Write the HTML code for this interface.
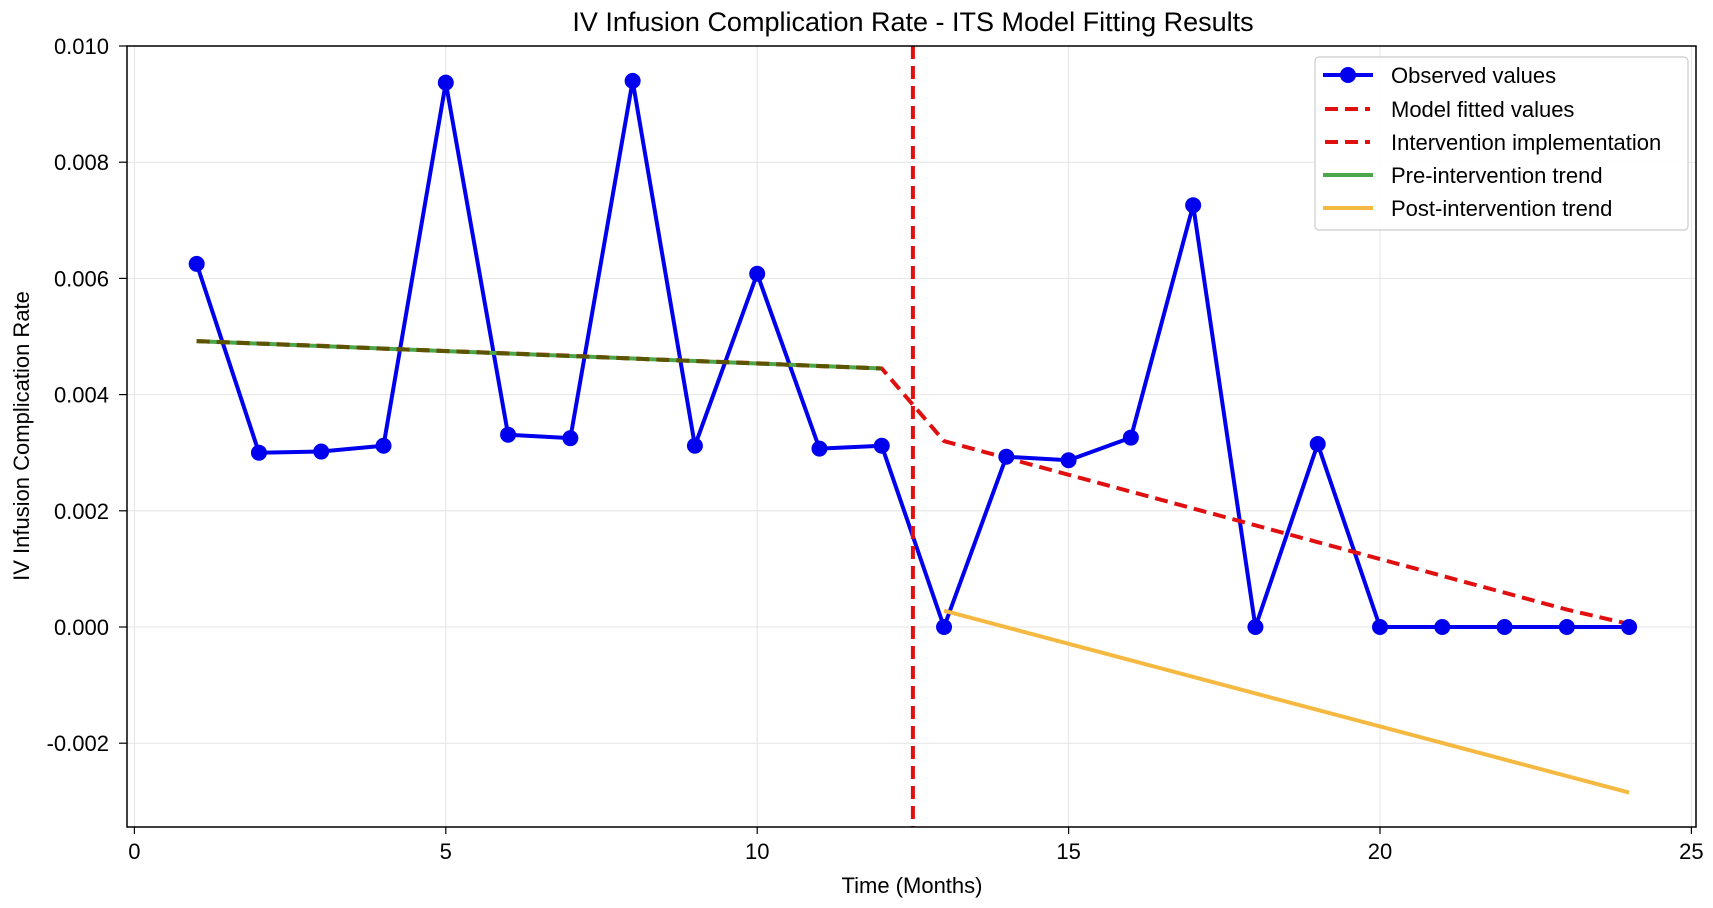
<!DOCTYPE html>
<html><head><meta charset="utf-8"><style>
html,body{margin:0;padding:0;background:#fff;}
svg{display:block;font-family:"Liberation Sans",Arial,sans-serif;}
</style></head><body>
<svg id="chart" width="1713" height="908" viewBox="0 0 1713 908" xmlns="http://www.w3.org/2000/svg">
<text x="913" y="31" font-size="27" text-anchor="middle" fill="#000">IV Infusion Complication Rate - ITS Model Fitting Results</text>
<g id="grid"></g>
<g id="series"></g>
<rect x="127" y="46" width="1569" height="781" fill="none" stroke="#000" stroke-width="1.5"/>
<g id="ticks"></g>
<text x="912" y="893" font-size="22" text-anchor="middle">Time (Months)</text>
<text transform="translate(29,436) rotate(-90)" font-size="22" text-anchor="middle">IV Infusion Complication Rate</text>
<g>
<rect x="1315" y="57" width="373" height="173" rx="4" fill="#fff" fill-opacity="0.9" stroke="#ccc" stroke-width="1.2"/>
<g><line x1="1323" y1="75" x2="1373" y2="75" stroke="#0000ee" stroke-width="4"/><circle cx="1348" cy="75" r="8" fill="#0000ee"/><text x="1391" y="83" font-size="22">Observed values</text></g>
<g><line x1="1325" y1="109" x2="1370" y2="109" stroke="#e01010" stroke-width="4" stroke-dasharray="13,7"/><text x="1391" y="117" font-size="22">Model fitted values</text></g>
<g><line x1="1325" y1="142" x2="1370" y2="142" stroke="#e01010" stroke-width="4" stroke-dasharray="13,7"/><text x="1391" y="150" font-size="22">Intervention implementation</text></g>
<g><line x1="1323" y1="175" x2="1373" y2="175" stroke="#4ca64c" stroke-width="4"/><text x="1391" y="183" font-size="22">Pre-intervention trend</text></g>
<g><line x1="1323" y1="208" x2="1373" y2="208" stroke="#f5b942" stroke-width="4"/><text x="1391" y="216" font-size="22">Post-intervention trend</text></g>
</g>
</svg>
<script>
const months = [1,2,3,4,5,6,7,8,9,10,11,12,13,14,15,16,17,18,19,20,21,22,23,24];
const observed = [0.00625,0.00300,0.00302,0.00312,0.00937,0.00331,0.00325,0.00940,0.00312,0.00608,0.00307,0.00312,0.00000,0.00293,0.00287,0.00326,0.00726,0.00000,0.00315,0.00000,0.00000,0.00000,0.00000,0.00000];
const fitted = [0.00492,0.00488,0.00484,0.00479,0.00475,0.00471,0.00467,0.00462,0.00458,0.00454,0.00449,0.00445,0.00320,0.00291,0.00262,0.00233,0.00204,0.00175,0.00146,0.00117,0.00088,0.00059,0.00030,0.00005];
const preMonths = [1,12];
const preTrend = [0.00492,0.00445];
const postMonths = [13,24];
const postTrend = [0.00028,-0.00285];
const interventionX = 12.5;
const xTicks = [0,5,10,15,20,25];
const yTicks = [-0.002,0,0.002,0.004,0.006,0.008,0.010];
const yTickLabels = ["-0.002","0.000","0.002","0.004","0.006","0.008","0.010"];

const NS="http://www.w3.org/2000/svg";
const X=v=>134.4+v*62.28;
const Y=v=>627-v*58100;
function mk(tag,attrs,parent){const e=document.createElementNS(NS,tag);for(const k in attrs)e.setAttribute(k,attrs[k]);parent.appendChild(e);return e;}
const grid=document.getElementById('grid'),ser=document.getElementById('series'),tk=document.getElementById('ticks');
xTicks.forEach(t=>{
  const g=mk('line',{x1:X(t),x2:X(t),y1:46,y2:827,stroke:'#e4e4e4','stroke-width':1},grid);
  
  
  const m=mk('line',{x1:X(t),x2:X(t),y1:827,y2:834,stroke:'#000','stroke-width':1.2},tk);
  
  
  const l=mk('text',{x:X(t),y:859,'font-size':22,'text-anchor':'middle'},tk);l.textContent=t;
  
  
});
yTicks.forEach((t,i)=>{
  const g=mk('line',{x1:127,x2:1696,y1:Y(t),y2:Y(t),stroke:'#e4e4e4','stroke-width':1},grid);
  
  
  const m=mk('line',{x1:119,x2:127,y1:Y(t),y2:Y(t),stroke:'#000','stroke-width':1.2},tk);
  
  
  const l=mk('text',{x:109,y:Y(t)+8,'font-size':22,'text-anchor':'end'},tk);l.textContent=yTickLabels[i];
  
  
});
const pts=(xs,ys)=>xs.map((x,i)=>X(x)+','+Y(ys[i])).join(' ');
const ob=mk('polyline',{points:pts(months,observed),fill:'none',stroke:'#0000ee','stroke-width':4,'stroke-linejoin':'round'},ser);


const po=mk('polyline',{points:pts(postMonths,postTrend),fill:'none',stroke:'#f5b942','stroke-width':4},ser);


const fi=mk('polyline',{points:pts(months,fitted),fill:'none',stroke:'#e01010','stroke-width':4,'stroke-dasharray':'13,7'},ser);


const pr=mk('polyline',{points:pts(preMonths,preTrend),fill:'none',stroke:'#4ca64c','stroke-width':4},ser);


const pr2=mk('polyline',{points:pts(preMonths,preTrend),fill:'none',stroke:'#5c5400','stroke-width':4,'stroke-dasharray':'13,7'},ser);


const iv=mk('line',{x1:X(interventionX),x2:X(interventionX),y1:46,y2:827,stroke:'#e01010','stroke-width':4,'stroke-dasharray':'13,7'},ser);


months.forEach((m,i)=>{
  const c=mk('circle',{cx:X(m),cy:Y(observed[i]),r:8,fill:'#0000ee'},ser);
  
  
});
</script>
</body></html>
